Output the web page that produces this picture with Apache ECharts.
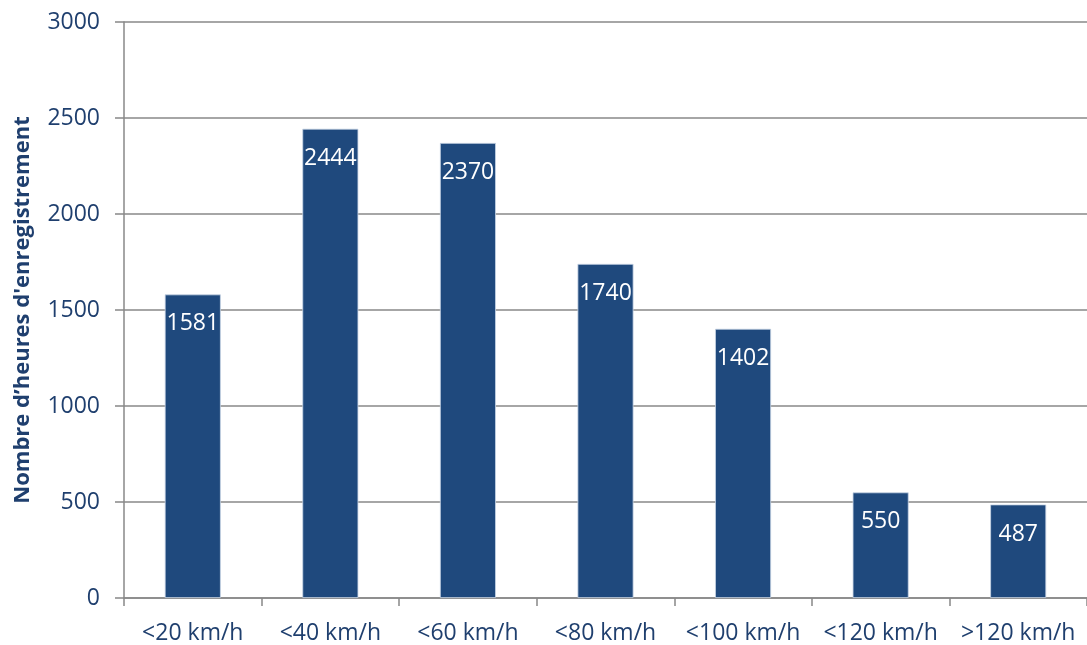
<!DOCTYPE html>
<html>
<head>
<meta charset="utf-8">
<script src="https://cdn.jsdelivr.net/npm/echarts@6/dist/echarts.min.js"></script>
<style>
  html, body { margin: 0; padding: 0; background: #ffffff; }
  #chart { width: 1087px; height: 645px; }
</style>
</head>
<body>
<div id="chart"></div>
<script>
// Speed classes and recorded hours per class
const categories = ['<20 km/h', '<40 km/h', '<60 km/h', '<80 km/h', '<100 km/h', '<120 km/h', '>120 km/h'];
const hours = [1581, 2444, 2370, 1740, 1402, 550, 487];
const yTicks = { min: 0, max: 3000, interval: 500 };
const yTitle = 'Nombre d\u2019heures d\'enregistrement';

const fontFamily = '"Open Sans", Lato, sans-serif';
const textBlue = '#1F3F6E';
const axisGray = '#888888';

const chart = echarts.init(document.getElementById('chart'), null, { renderer: 'canvas' });
chart.setOption({
  animation: false,
  backgroundColor: '#ffffff',
  grid: { left: 124, right: 0, top: 22, bottom: 47, containLabel: false },
  xAxis: {
    type: 'category',
    data: categories,
    boundaryGap: true,
    axisLine: { show: true, lineStyle: { color: axisGray, width: 1.5 } },
    axisTick: { show: true, interval: 0, alignWithLabel: false, length: 8, lineStyle: { color: axisGray, width: 1.5 } },
    axisLabel: { interval: 0, color: textBlue, fontSize: 23, fontFamily: fontFamily, margin: 24 },
    splitLine: { show: false }
  },
  yAxis: {
    type: 'value',
    min: yTicks.min,
    max: yTicks.max,
    interval: yTicks.interval,
    name: yTitle,
    nameLocation: 'middle',
    nameGap: 90,
    nameRotate: 90,
    nameTextStyle: { color: textBlue, fontSize: 22, fontWeight: 'bold', fontFamily: fontFamily },
    axisLine: { show: true, lineStyle: { color: axisGray, width: 1.5 } },
    axisTick: { show: true, length: 9, lineStyle: { color: axisGray, width: 1.5 } },
    axisLabel: {
      color: textBlue, fontSize: 23, fontFamily: fontFamily, margin: 24,
      formatter: function (v) { return String(v); }
    },
    splitLine: { show: true, lineStyle: { color: axisGray, width: 1.5 } }
  },
  series: [{
    type: 'bar',
    data: hours,
    barWidth: 56,
    itemStyle: { color: '#1F497D', borderColor: '#c9d5e6', borderWidth: 0.8 },
    label: {
      show: true,
      position: 'insideTop',
      distance: 18,
      color: '#ffffff',
      fontSize: 23,
      fontFamily: fontFamily
    }
  }]
});
</script>
</body>
</html>
